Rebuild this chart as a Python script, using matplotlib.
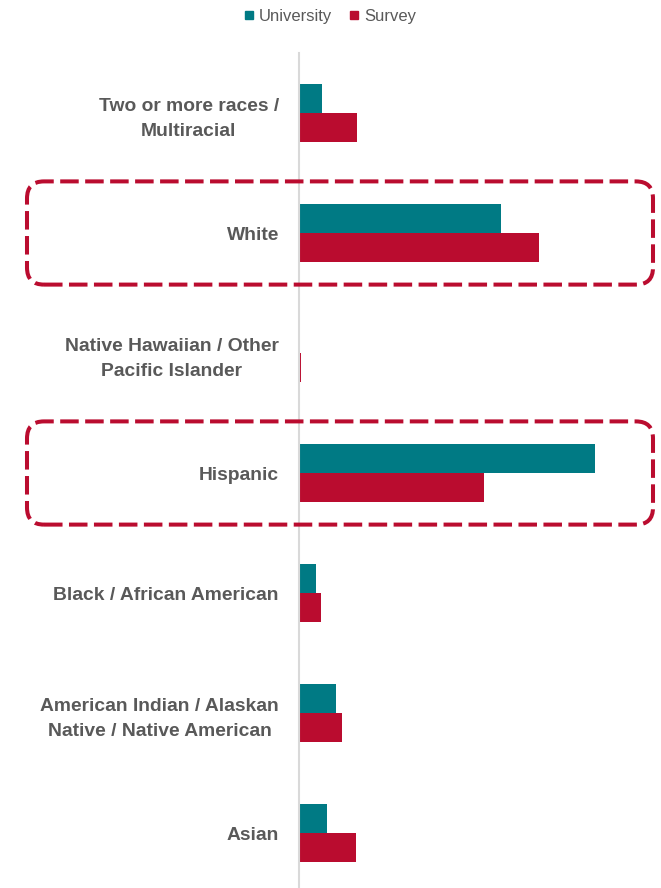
import matplotlib
matplotlib.use('Agg')
from matplotlib import pyplot as plt
from matplotlib.lines import Line2D
from matplotlib.patches import FancyBboxPatch
from matplotlib.transforms import IdentityTransform
import numpy as np

# Share of students by race / ethnicity (%)
categories = ['Two or more races /\nMultiracial',
              'White',
              'Native Hawaiian / Other\nPacific Islander',
              'Hispanic',
              'Black / African American',
              'American Indian / Alaskan\nNative / Native American',
              'Asian']
university = [3.9, 33.6, 0.0, 49.3, 2.9, 6.2, 4.6]
survey = [9.7, 40.0, 0.3, 30.9, 3.6, 7.1, 9.5]
highlighted = ['White', 'Hispanic']

teal = '#007A84'
crimson = '#BA0C2F'
grey_text = '#595959'

plt.rcParams['font.family'] = ['Liberation Sans', 'DejaVu Sans']

W, H = 661, 888
fig = plt.figure(figsize=(W / 100, H / 100), dpi=100)
ax = fig.add_axes([299 / W, 0, 1 - 299 / W, 1 - 53 / H])

y = np.arange(len(categories))
height = 0.238
ax.barh(y - height / 2, university, height=height, color=teal, label='University')
ax.barh(y + height / 2, survey, height=height, color=crimson, label='Survey')

ax.set_ylim((H - 113) / 120, -0.5)
ax.set_xlim(0, (W - 299) / 6.0)

ax.set_yticks(y)
ax.set_yticklabels(categories, fontsize=13.9, fontweight='bold', color=grey_text)
for lbl in ax.get_yticklabels():
    lbl.set_linespacing(1.63)
    lbl.set_multialignment('center')
ax.tick_params(axis='y', length=0, pad=14.5)
ax.set_xticks([])
for s in ['top', 'right', 'bottom']:
    ax.spines[s].set_visible(False)
ax.spines['left'].set_color('#D9D9D9')
ax.spines['left'].set_linewidth(1.5)

handles = [Line2D([], [], marker='s', linestyle='none', markersize=6, color=teal),
           Line2D([], [], marker='s', linestyle='none', markersize=6, color=crimson)]
fig.legend(handles, ['University', 'Survey'], loc='center',
           bbox_to_anchor=(330 / W, 1 - 16 / H), ncol=2, frameon=False,
           fontsize=12, labelcolor=grey_text, handlelength=0.6,
           handletextpad=0.3, columnspacing=1.0)

# dashed rounded boxes around highlighted groups
for name in highlighted:
    i = categories.index(name)
    yc = ax.transData.transform((0, i))[1]
    half = 0.43 * 120
    box = FancyBboxPatch((27, yc - half), 626, 2 * half,
                         boxstyle='round,pad=0,rounding_size=17',
                         transform=IdentityTransform(), fill=False,
                         edgecolor=crimson, linewidth=2.9,
                         linestyle=(0, (4.6, 1.6)))
    fig.add_artist(box)

fig.savefig('out.png', dpi=100)
